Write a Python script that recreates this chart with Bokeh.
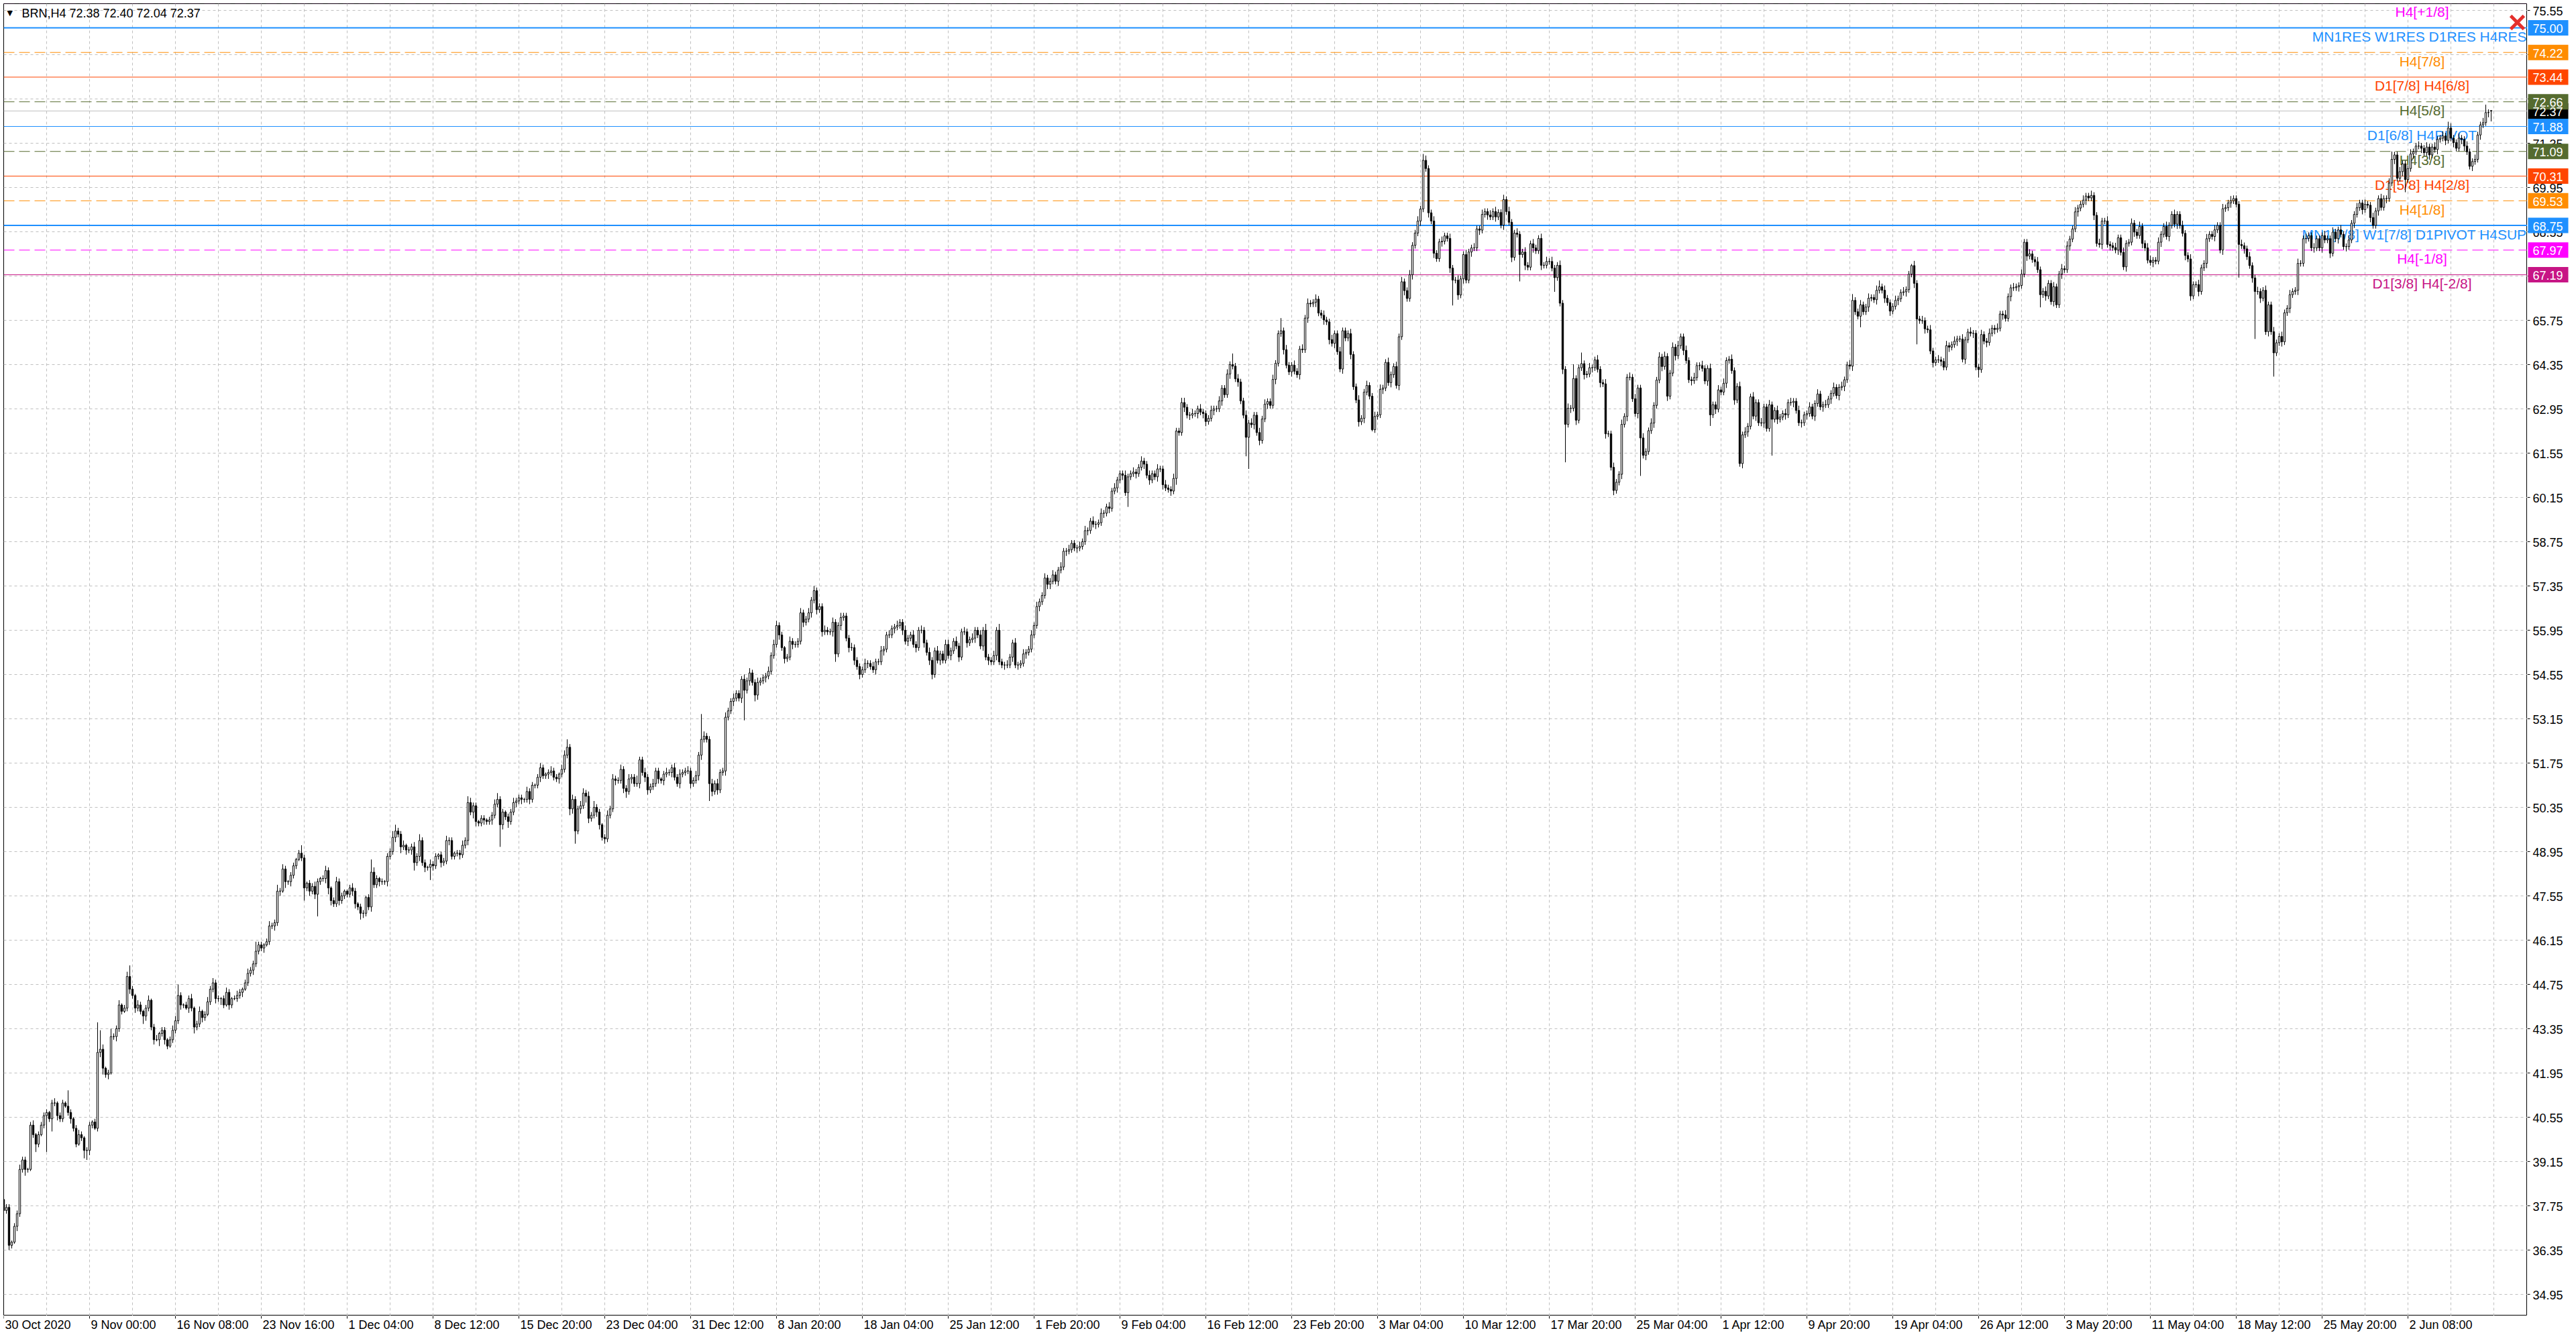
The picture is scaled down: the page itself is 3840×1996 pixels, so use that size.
import numpy as np
from bokeh.plotting import figure
from bokeh.layouts import column, row
from bokeh.models import ColumnDataSource, FixedTicker, Grid, Span, Range1d
from bokeh.core.properties import value
from bokeh.embed import file_html
from bokeh.resources import INLINE

symbol = "BRN,H4"
last_quote = [72.38, 72.40, 72.04, 72.37]   # open, high, low, close of the live bar
first_open = 37.95

# H4 closes, one row per date label (32 bars)
closes = [
    37.6, 37.7, 36.5, 36.6, 37.1, 37.5, 38.9, 39.2, 38.9, 38.9, 40.3, 40.0, 39.7, 40.0, 40.3, 40.6, 40.7, 40.5, 41.0, 41.0, 40.6, 40.5, 41.0, 40.9, 40.7, 40.5, 40.2, 39.7, 40.0, 39.9, 39.5, 39.5,
    40.3, 40.4, 40.2, 42.6, 42.7, 42.1, 41.9, 41.95, 43.1, 43.1, 43.35, 44.1, 43.9, 44.0, 45.0, 44.6, 44.4, 44.0, 44.1, 43.9, 43.75, 44.0, 44.25, 43.4, 43.0, 43.0, 43.2, 43.3, 43.0, 42.8, 43.0, 43.3,
    43.6, 44.4, 44.1, 44.1, 44.0, 44.3, 44.0, 43.4, 43.5, 43.9, 43.7, 43.8, 44.2, 44.6, 44.8, 44.3, 44.3, 44.3, 44.1, 44.5, 44.1, 44.3, 44.3, 44.4, 44.5, 44.6, 44.8, 45.1, 45.2, 45.4, 45.8, 46.0,
    45.9, 46.0, 46.1, 46.6, 46.6, 46.7, 47.7, 47.7, 48.4, 48.0, 48.0, 48.2, 48.5, 48.7, 48.9, 48.75, 47.8, 47.95, 47.7, 47.85, 47.6, 48.0, 48.1, 48.1, 48.35, 47.8, 47.4, 47.3, 48.0, 47.4, 47.55, 47.7,
    47.6, 47.8, 47.7, 47.3, 47.2, 47.0, 47.0, 47.5, 47.2, 48.3, 47.9, 48.1, 48.0, 48.0, 48.0, 48.8, 48.95, 49.4, 49.6, 49.5, 49.1, 49.15, 49.0, 49.0, 49.1, 48.6, 48.8, 49.3, 48.6, 48.45, 48.45, 48.55,
    48.5, 48.8, 48.85, 48.6, 48.65, 49.3, 49.3, 48.8, 48.9, 48.9, 48.85, 49.15, 49.3, 50.5, 50.2, 50.4, 49.9, 49.85, 50.0, 49.95, 49.9, 49.95, 50.1, 50.45, 50.6, 49.8, 50.2, 50.05, 49.9, 50.2, 50.5, 50.55,
    50.65, 50.6, 50.6, 50.85, 50.6, 51.05, 51.05, 51.3, 51.6, 51.35, 51.4, 51.45, 51.5, 51.3, 51.25, 51.4, 51.55, 52.0, 52.25, 50.3, 50.6, 49.6, 50.3, 50.4, 50.8, 50.7, 50.0, 50.1, 50.35, 50.2, 49.8, 49.4,
    49.35, 50.1, 50.3, 51.25, 51.2, 51.2, 51.55, 50.95, 50.85, 51.25, 51.3, 51.1, 51.1, 51.85, 51.45, 51.3, 50.9, 51.0, 51.1, 51.5, 51.25, 51.2, 51.4, 51.45, 51.45, 51.6, 51.3, 51.1, 51.4, 51.45, 51.5, 51.5,
    51.1, 51.2, 51.35, 52.0, 52.5, 52.6, 52.5, 51.1, 50.85, 51.1, 50.9, 51.45, 51.5, 53.2, 53.4, 53.7, 53.8, 53.95, 53.8, 54.4, 54.05, 54.35, 54.6, 54.3, 53.9, 54.3, 54.35, 54.45, 54.5, 54.65, 55.15, 55.5,
    56.1, 55.8, 55.4, 55.05, 55.1, 55.6, 55.5, 55.5, 55.6, 56.5, 56.2, 56.3, 56.5, 56.9, 57.2, 56.6, 56.7, 55.9, 55.95, 55.9, 55.9, 56.2, 55.2, 56.1, 56.35, 56.4, 55.7, 55.4, 55.4, 55.0, 54.8, 54.55,
    54.7, 54.9, 54.9, 54.8, 54.7, 54.95, 54.95, 55.3, 55.35, 55.8, 55.8, 56.0, 56.05, 56.1, 56.2, 55.95, 55.6, 55.7, 55.8, 55.5, 55.4, 55.95, 55.95, 55.55, 55.25, 55.0, 54.55, 55.3, 55.0, 55.2, 55.0, 55.5,
    55.15, 55.3, 55.6, 55.45, 55.1, 55.9, 55.9, 55.55, 55.65, 55.7, 55.95, 55.8, 55.45, 55.95, 55.1, 55.0, 54.95, 55.15, 55.95, 54.95, 54.85, 54.85, 54.85, 55.1, 55.55, 54.85, 54.85, 54.9, 55.2, 55.25, 55.35, 55.8,
    56.1, 56.7, 56.85, 57.05, 57.6, 57.4, 57.5, 57.7, 57.5, 57.85, 57.95, 58.45, 58.45, 58.5, 58.7, 58.55, 58.55, 58.6, 58.75, 59.1, 59.1, 59.4, 59.3, 59.3, 59.35, 59.65, 59.65, 59.85, 59.8, 60.35, 60.45, 60.7,
    60.9, 60.85, 60.3, 60.8, 60.9, 60.95, 60.9, 61.1, 61.3, 61.2, 60.85, 60.7, 60.9, 60.8, 61.05, 61.05, 60.55, 60.45, 60.4, 60.35, 60.75, 62.25, 62.2, 63.15, 63.0, 62.75, 62.75, 62.8, 62.8, 62.95, 62.85, 62.8,
    62.55, 62.65, 62.9, 62.95, 62.95, 63.2, 63.6, 63.4, 64.05, 64.35, 64.3, 63.9, 63.8, 63.2, 62.75, 62.05, 62.5, 62.45, 62.75, 62.2, 61.95, 62.63, 63.1, 63.18, 63.06, 63.88, 64.39, 65.33, 65.42, 64.82, 64.33, 64.12,
    64.33, 64.14, 64.03, 64.84, 64.82, 65.82, 66.29, 66.27, 66.32, 66.42, 65.98, 65.91, 65.76, 65.7, 65.14, 65.02, 65.33, 64.76, 64.21, 65.42, 65.19, 65.33, 64.67, 63.65, 63.23, 62.54, 62.65, 63.48, 63.69, 63.35, 62.29, 62.71,
    62.76, 63.57, 63.61, 64.42, 63.78, 64.03, 64.29, 63.69, 65.23, 66.97, 66.69, 66.44, 67.19, 68.12, 68.51, 68.89, 69.27, 70.81, 70.55, 69.15, 68.89, 67.87, 67.7, 68.23, 68.25, 68.42, 68.34, 67.4, 67.02, 67.02, 66.55, 67.06,
    67.83, 67.02, 67.91, 68.04, 68.04, 68.64, 68.6, 69.1, 69.19, 69.08, 69.02, 69.19, 69.02, 69.16, 68.76, 69.57, 69.19, 68.85, 67.74, 68.51, 68.47, 67.83, 67.91, 67.49, 67.43, 68.17, 68.04, 67.95, 68.34, 67.49, 67.49, 67.61,
    67.61, 67.4, 67.1, 67.49, 66.29, 64.2, 62.46, 62.97, 62.97, 63.91, 62.59, 64.25, 64.38, 64.03, 64.05, 64.25, 64.25, 64.5, 64.2, 63.78, 63.74, 62.16, 62.16, 61.1, 60.37, 60.63, 60.88, 62.46, 62.71, 63.95, 63.95, 63.27,
    62.8, 63.61, 62.03, 61.48, 61.6, 62.26, 62.5, 63.06, 63.86, 64.59, 64.29, 64.61, 63.35, 64.08, 64.9, 64.63, 64.95, 65.23, 64.8, 64.48, 63.87, 63.84, 63.94, 64.32, 64.32, 64.23, 63.83, 64.23, 62.76, 63.08, 62.94, 63.55,
    63.48, 63.76, 64.48, 64.52, 64.16, 63.23, 63.66, 61.22, 62.13, 62.22, 62.4, 63.33, 62.72, 63.15, 62.51, 62.5, 63.01, 62.33, 63.08, 62.62, 62.9, 62.62, 62.69, 62.8, 62.76, 63.15, 63.15, 63.19, 62.9, 62.51, 62.51, 62.76,
    62.8, 63.01, 62.72, 63.12, 63.42, 63.01, 63.08, 63.08, 63.26, 63.44, 63.63, 63.37, 63.63, 63.66, 63.87, 64.34, 64.3, 66.38, 66.02, 65.88, 66.24, 66.02, 66.17, 66.45, 66.47, 66.4, 66.7, 66.81, 66.7, 66.45, 66.31, 66.04,
    66.19, 66.38, 66.43, 66.63, 66.65, 66.72, 67.21, 67.48, 66.92, 65.79, 65.74, 65.74, 65.48, 65.45, 64.78, 64.41, 64.5, 64.5, 64.45, 64.27, 64.95, 64.9, 64.98, 65.09, 65.16, 65.16, 64.52, 65.13, 65.38, 65.34, 65.34, 64.27,
    64.19, 65.3, 65.09, 65.05, 65.34, 65.5, 65.46, 65.5, 65.95, 65.92, 65.81, 66.5, 66.78, 66.78, 66.81, 66.85, 67.21, 68.22, 67.78, 67.85, 67.67, 67.6, 67.35, 66.56, 66.67, 66.52, 66.92, 66.34, 66.81, 66.24, 67.21, 67.38,
    67.35, 68.1, 68.32, 68.64, 69.18, 69.3, 69.42, 69.55, 69.68, 69.62, 69.7, 69.07, 68.18, 68.15, 68.89, 68.89, 68.15, 68.11, 68.05, 67.97, 68.36, 67.9, 67.44, 68.18, 68.22, 68.82, 68.54, 68.43, 68.72, 68.18, 68.04, 67.65,
    67.58, 67.65, 67.62, 68.22, 68.47, 68.72, 68.4, 68.75, 69.1, 68.79, 69.1, 68.75, 68.5, 67.8, 67.69, 66.52, 66.88, 66.88, 66.66, 67.41, 67.55, 68.33, 68.47, 68.4, 68.61, 68.75, 67.97, 69.28, 69.31, 69.46, 69.53, 69.6,
    69.42, 68.15, 68.11, 68.01, 67.76, 67.48, 67.09, 66.66, 66.66, 66.45, 66.7, 65.39, 66.24, 65.39, 64.72, 65.04, 65.24, 65.07, 65.99, 66.13, 66.56, 66.66, 66.7, 67.55, 67.55, 68.33, 68.34, 68.43, 68.04, 68.04, 68.33, 68.04,
    68.43, 68.29, 68.33, 67.87, 68.54, 68.33, 68.61, 68.47, 68.08, 68.08, 68.29, 68.82, 69.1, 69.31, 69.46, 69.25, 69.42, 69.39, 69.0, 68.75, 69.21, 69.6, 69.32, 69.6, 69.6, 70.09, 70.84, 70.98, 70.24, 70.45, 70.7, 70.2,
    70.55, 71.01, 71.08, 71.26, 71.26, 71.19, 71.05, 71.23, 70.98, 71.23, 71.15, 71.47, 71.51, 71.58, 71.44, 71.83, 71.51, 71.37, 71.19, 71.51, 71.47, 71.26, 71.08, 70.62, 70.77, 70.84, 71.61, 71.93, 72.0, 72.32, 72.32, 72.37,
]

# wick beyond the candle body, in steps of 0.05
hi_wick = [
    3,2,2,1,2,2,3,2,2,1,2,3,1,2,2,2, 2,1,2,3,1,2,2,1,10,2,1,2,3,2,1,2,
    2,1,2,19,12,3,1,2,5,2,2,3,1,2,3,7, 2,1,3,2,1,2,3,1,2,3,1,2,2,1,2,3,
    3,7,2,1,2,2,3,1,2,3,1,2,3,2,3,2, 2,1,2,3,2,1,2,3,2,1,2,3,2,2,6,2,
    2,1,2,3,2,2,4,2,3,2,1,2,2,1,2,5, 2,1,2,2,3,2,1,2,3,2,1,2,3,2,2,1,
    1,2,3,2,1,2,2,1,2,8,3,2,1,2,1,2, 2,4,4,2,2,3,1,2,2,3,2,4,2,2,1,3,
    2,2,1,2,2,3,2,2,1,2,2,3,2,4,3,2, 2,1,2,2,1,2,2,3,4,2,2,1,2,2,3,2,
    2,2,1,3,2,2,1,2,3,2,1,2,3,2,2,1, 3,3,5,2,3,2,2,3,3,2,3,2,4,2,2,1,
    2,3,2,3,2,2,3,2,2,3,2,2,5,2,2,3, 2,2,3,2,2,1,2,3,2,2,3,2,3,2,2,3,
    2,2,3,2,16,3,2,2,3,2,3,2,2,3,2,2, 3,2,2,2,3,2,3,2,2,3,2,2,2,3,2,3,
    3,2,2,1,2,3,2,2,2,3,2,2,3,2,3,2, 2,2,3,2,2,3,2,2,3,2,2,2,3,2,2,2,
    2,3,2,2,3,2,2,3,2,2,3,2,2,3,2,2, 3,2,2,3,2,2,3,2,2,3,2,2,3,2,2,3,
    3,2,2,3,2,2,3,2,2,3,2,2,3,2,4,2, 2,3,2,4,2,2,3,2,2,3,2,2,3,2,2,3,
    2,3,2,2,3,2,2,3,2,2,3,2,2,3,2,2, 2,3,2,3,2,2,3,2,2,3,2,2,3,2,3,2,
    2,2,3,2,2,3,2,2,3,2,2,3,2,2,3,2, 2,3,2,2,3,2,2,3,3,2,2,3,2,2,3,2,
    2,2,3,2,2,3,2,2,3,2,7,2,3,2,2,3, 2,3,2,2,3,2,3,2,2,3,2,2,8,2,3,2,
    2,3,2,2,3,2,3,2,2,3,2,2,3,2,2,3, 2,2,3,2,2,2,3,2,2,3,2,2,3,2,2,3,
    2,3,2,2,3,2,2,3,2,3,2,2,3,2,2,3, 2,4,3,2,2,3,2,2,3,2,2,3,2,2,3,2,
    2,3,2,2,3,2,2,3,2,2,3,2,3,2,2,3, 2,3,2,2,3,2,2,3,2,2,3,2,2,3,2,3,
    2,3,2,2,3,2,2,3,2,9,2,2,7,2,2,3, 2,2,3,2,2,3,2,2,3,2,2,3,2,2,3,2,
    3,2,2,3,2,2,3,2,2,3,2,3,2,2,3,2, 3,2,2,3,2,2,3,2,2,3,2,2,3,2,2,3,
    2,3,2,2,3,2,2,3,2,3,2,2,3,2,2,3, 2,2,3,2,2,3,2,2,3,2,3,2,2,3,2,2,
    2,3,2,2,3,2,2,3,2,2,3,2,2,3,2,2, 3,4,2,2,3,2,2,3,2,2,3,4,2,3,2,2,
    2,3,2,2,3,2,2,1,3,2,2,3,2,2,3,2, 2,3,2,2,3,2,2,3,2,2,3,2,2,3,2,2,
    2,3,2,2,3,2,2,3,2,2,3,2,2,3,2,2, 3,2,2,3,2,2,3,2,2,3,2,2,3,2,2,3,
    2,3,2,2,3,2,2,3,2,2,3,2,2,3,2,2, 3,2,2,3,2,2,3,2,2,3,2,2,3,2,2,3,
    3,2,2,3,2,2,3,2,2,3,2,2,3,2,2,3, 2,2,3,2,2,3,2,2,3,2,2,3,2,2,3,2,
    2,2,3,2,2,3,2,2,3,2,2,3,2,2,3,2, 2,3,2,2,3,2,2,3,2,2,3,2,2,3,2,2,
    2,3,2,2,3,2,2,3,2,2,3,2,2,3,2,2, 3,2,2,3,2,2,3,2,2,3,5,2,2,3,2,2,
    2,3,2,2,3,2,2,3,2,2,3,2,2,3,2,4, 3,2,2,3,2,2,3,2,2,3,2,2,3,5,2,1,
]
lo_wick = [
    2,2,3,2,1,3,2,2,4,2,1,2,5,2,1,2, 23,2,8,2,3,2,2,1,2,3,2,2,1,2,5,6,
    3,2,1,2,3,4,2,3,1,2,3,2,2,1,2,3, 2,3,2,2,5,3,2,2,3,1,4,2,3,2,1,2,
    2,2,3,2,1,3,2,4,2,2,3,2,1,2,2,3, 2,4,2,1,3,2,1,2,2,3,1,2,2,3,2,2,
    2,3,1,2,2,3,2,3,1,4,2,3,2,2,1,2, 8,2,3,2,3,14,2,2,3,4,3,2,2,3,2,2,
    2,2,3,3,2,4,3,2,2,3,2,2,3,2,2,3, 2,2,3,2,4,2,3,2,3,5,2,3,2,3,2,8,
    3,2,2,3,2,2,3,2,2,2,3,2,2,3,2,4, 3,2,2,3,2,2,3,2,2,14,3,2,4,2,2,3,
    2,3,2,2,3,2,2,2,3,2,2,3,2,2,2,3, 2,2,2,4,3,8,2,3,2,4,3,2,2,3,3,2,
    3,2,2,2,3,2,2,3,4,2,3,2,2,3,2,3, 3,2,2,2,3,2,3,2,2,3,2,2,3,2,2,2,
    3,2,2,3,3,2,2,11,3,2,3,2,2,3,2,2, 3,2,2,3,19,2,3,2,4,3,2,2,3,2,2,2,
    2,3,2,3,2,2,3,2,2,2,3,2,2,3,2,3, 2,3,2,2,2,3,5,2,3,2,2,3,2,3,2,3,
    2,2,3,2,2,3,2,2,3,2,2,2,3,2,2,3, 2,3,2,2,3,2,2,3,2,3,3,2,2,3,2,2,
    2,3,2,2,3,2,2,3,2,2,3,2,2,3,2,3, 2,2,3,2,2,3,2,2,3,2,3,2,2,3,2,2,
    2,2,3,2,2,3,3,2,2,3,2,2,3,2,2,2, 3,2,2,2,3,2,2,3,2,2,3,2,3,2,2,3,
    2,3,2,9,2,2,3,2,2,3,2,3,2,2,3,2, 3,2,2,3,2,4,2,2,3,2,3,2,2,3,2,3,
    3,2,2,3,2,2,3,2,2,3,2,2,3,2,2,12, 20,2,3,2,3,2,2,3,2,2,3,2,2,3,2,2,
    3,2,2,3,2,2,3,2,2,3,2,2,3,2,3,2, 3,2,2,3,2,2,3,2,2,3,2,3,2,2,1,2,
    2,2,3,2,2,3,2,2,3,2,3,2,2,3,2,2, 3,2,2,3,2,3,2,2,3,2,2,3,16,2,3,2,
    3,2,2,3,2,2,3,2,2,3,2,2,3,2,2,3, 2,2,3,2,2,17,2,3,2,2,3,2,2,3,2,2,
    2,2,9,2,2,3,24,2,3,2,3,2,2,3,2,2, 3,2,2,3,2,3,2,2,3,2,2,3,2,3,2,2,
    2,3,24,2,3,2,2,3,2,2,3,2,3,2,2,3, 2,2,3,2,2,3,2,2,3,2,2,3,7,2,3,2,
    2,2,3,2,2,3,2,2,3,2,3,2,2,3,2,2, 3,2,2,23,2,3,2,2,3,2,2,3,2,2,3,2,
    3,2,2,3,2,2,3,2,2,3,2,2,3,2,3,2, 2,3,2,2,7,2,2,3,2,2,3,2,2,3,2,3,
    2,2,3,2,2,3,2,2,3,16,2,2,3,2,2,3, 2,2,3,2,2,3,2,2,3,2,2,3,2,2,3,2,
    5,2,2,3,2,2,3,2,2,3,2,2,3,2,2,3, 2,2,3,2,2,3,2,8,2,3,2,2,3,2,2,3,
    2,2,3,2,2,3,2,2,3,2,2,3,2,2,3,2, 2,3,2,2,3,2,2,3,2,2,3,2,2,3,2,2,
    2,3,2,2,3,2,2,3,2,2,3,2,2,3,2,3, 2,2,3,2,2,3,2,2,3,2,2,3,2,2,3,2,
    2,21,2,3,2,2,3,30,2,3,2,2,3,2,15,2, 2,3,2,2,3,2,2,3,2,2,3,2,2,3,2,2,
    3,2,2,3,2,2,3,2,2,3,2,2,3,2,2,3, 2,2,3,2,2,3,2,2,3,2,2,3,2,2,3,8,
    2,2,3,2,2,3,2,2,3,2,2,3,2,2,3,2, 2,3,2,2,3,3,2,2,3,2,2,3,2,2,3,6,
]

date_labels = ["30 Oct 2020", "9 Nov 00:00", "16 Nov 08:00", "23 Nov 16:00", "1 Dec 04:00",
               "8 Dec 12:00", "15 Dec 20:00", "23 Dec 04:00", "31 Dec 12:00", "8 Jan 20:00",
               "18 Jan 04:00", "25 Jan 12:00", "1 Feb 20:00", "9 Feb 04:00", "16 Feb 12:00",
               "23 Feb 20:00", "3 Mar 04:00", "10 Mar 12:00", "17 Mar 20:00", "25 Mar 04:00",
               "1 Apr 12:00", "9 Apr 20:00", "19 Apr 04:00", "26 Apr 12:00", "3 May 20:00",
               "11 May 04:00", "18 May 12:00", "25 May 20:00", "2 Jun 08:00"]
bars_per_label = 32

price_ticks = [75.55, 74.15, 72.75, 71.35, 69.95, 68.55, 67.15, 65.75, 64.35, 62.95,
               61.55, 60.15, 58.75, 57.35, 55.95, 54.55, 53.15, 51.75, 50.35, 48.95,
               47.55, 46.15, 44.75, 43.35, 41.95, 40.55, 39.15, 37.75, 36.35, 34.95]

# Murrey math levels
level_prices = [75.78, 75.00, 74.22, 73.44, 72.66, 71.88, 71.09, 70.31, 69.53, 68.75, 67.97, 67.19]
level_names = ["H4[+1/8]", "MN1RES W1RES D1RES H4RES", "H4[7/8]", "D1[7/8] H4[6/8]", "H4[5/8]",
               "D1[6/8] H4PIVOT", "H4[3/8]", "D1[5/8] H4[2/8]", "H4[1/8]",
               "MN1[7/8] W1[7/8] D1PIVOT H4SUP", "H4[-1/8]", "D1[3/8] H4[-2/8]"]

# styles
level_colors = ["#FF00FF", "#1E90FF", "#FF8C00", "#FF4500", "#556B2F", "#1E90FF",
                "#556B2F", "#FF4500", "#FF8C00", "#1E90FF", "#FF00FF", "#C71585"]
level_dash = ["16 7", "solid", "16 7", "solid", "16 7", "solid",
              "16 7", "solid", "16 7", "solid", "16 7", "solid"]
level_width = [1, 2, 1, 1, 1, 1, 1, 1, 1, 2, 1, 1]
level_anchor = ["center", "right", "center", "center", "center", "center",
                "center", "center", "center", "right", "center", "center"]
FONT = "Liberation Sans"

c = np.array(closes, dtype=float)
o = np.concatenate([[first_open], c[:-1]])
h = np.maximum(o, c) + np.array(hi_wick) * 0.05
l = np.minimum(o, c) - np.array(lo_wick) * 0.05
o[-1], h[-1], l[-1], c[-1] = last_quote
x = np.arange(len(c))
up = c >= o

PAD = 5                      # window edge before the chart frame
FRAME_W, FRAME_H = 3762, 1956
AXIS_W, AXIS_H = 72, 34
x_rng = Range1d(0, 940.5)
y_rng = Range1d(34.269, 75.762)

# ---- main chart
p = figure(width=PAD + FRAME_W, height=PAD + FRAME_H, x_range=x_rng, y_range=y_rng,
           x_axis_location=None, y_axis_location=None, output_backend="svg",
           toolbar_location=None, min_border=0, min_border_left=PAD, min_border_top=PAD,
           background_fill_color="white", border_fill_color="white")
p.outline_line_color = "black"
p.outline_line_width = 1
p.grid.visible = False
p.add_layout(Grid(dimension=0, ticker=FixedTicker(ticks=list(range(0, 941, bars_per_label // 2))),
                  grid_line_color="#c0c0c0", grid_line_dash="4 4", grid_line_width=1))
p.add_layout(Grid(dimension=1, ticker=FixedTicker(ticks=price_ticks),
                  grid_line_color="#c0c0c0", grid_line_dash="4 4", grid_line_width=1))

for pr, col, dash, w in zip(level_prices, level_colors, level_dash, level_width):
    p.add_layout(Span(location=pr, dimension="width", line_color=col, line_dash=dash,
                      line_width=w, level="underlay"))
p.add_layout(Span(location=last_quote[3], dimension="width", line_color="#c0c0c0",
                  line_width=1, level="underlay"))

for anchor, xpos, xoff in (("center", x_rng.end - 39.25, 0), ("right", x_rng.end, -1)):
    keep = [i for i, a in enumerate(level_anchor) if a == anchor]
    lab = ColumnDataSource(dict(x=[xpos] * len(keep), y=[level_prices[i] for i in keep],
                                text=[level_names[i] for i in keep],
                                color=[level_colors[i] for i in keep]))
    p.text(x="x", y="y", text="text", text_color="color", source=lab, text_align=anchor,
           text_baseline="middle", x_offset=xoff, y_offset=13, text_font=value(FONT),
           text_font_size="21px")

p.segment(x0=x, y0=h, x1=x, y1=l, line_color="black", line_width=1)
bull = ColumnDataSource(dict(x=x[up], top=c[up], bottom=o[up]))
bear = ColumnDataSource(dict(x=x[~up], top=o[~up], bottom=c[~up]))
p.vbar(x="x", width=0.6, top="top", bottom="bottom", source=bull,
       fill_color="white", line_color="black", line_width=1)
p.vbar(x="x", width=0.6, top="top", bottom="bottom", source=bear,
       fill_color="black", line_color="black", line_width=1)

title = f"{symbol}  " + " ".join(f"{v:.2f}" for v in last_quote)
p.text(x=[x_rng.start], y=[y_rng.end], text=["\u25bc"], x_offset=5, y_offset=14,
       text_baseline="middle", text_font=value("DejaVu Sans"), text_font_size="11px",
       text_color="black")
p.text(x=[x_rng.start], y=[y_rng.end], text=[title], x_offset=27, y_offset=14,
       text_baseline="middle", text_font=value(FONT), text_font_size="18px",
       text_color="black")
p.scatter(x=[x_rng.end - 3.75], y=[y_rng.end - 0.594], marker="x", size=28, line_width=5,
          line_color="#e5302c")

# ---- price scale on the right
ax = figure(width=AXIS_W, height=PAD + FRAME_H, x_range=Range1d(0, AXIS_W), y_range=y_rng,
            x_axis_location=None, y_axis_location=None, output_backend="svg",
            toolbar_location=None, min_border=0, min_border_top=PAD, outline_line_color=None,
            background_fill_color="white", border_fill_color="white")
ax.grid.visible = False
ax.segment(x0=[0] * len(price_ticks), y0=price_ticks, x1=[4] * len(price_ticks), y1=price_ticks,
           line_color="black", line_width=1)
ax.text(x=[8] * len(price_ticks), y=price_ticks, text=[f"{v:.2f}" for v in price_ticks],
        text_baseline="middle", y_offset=1, text_font=value(FONT), text_font_size="18px",
        text_color="black")

tag_price = [last_quote[3]] + [v for v in level_prices if v <= y_rng.end]
tag_color = ["black"] + [cl for v, cl in zip(level_prices, level_colors) if v <= y_rng.end]
tags = ColumnDataSource(dict(y=tag_price, color=tag_color, text=[f"{v:.2f}" for v in tag_price],
                             x=[31] * len(tag_price), tx=[8] * len(tag_price)))
ax.rect(x="x", y="y", width=60, height=23, height_units="screen", fill_color="color",
        line_color=None, source=tags)
ax.text(x="tx", y="y", text="text", text_baseline="middle", y_offset=1, text_color="white",
        text_font=value(FONT), text_font_size="18px", source=tags)

# ---- time scale at the bottom
tx = figure(width=PAD + FRAME_W, height=AXIS_H, x_range=x_rng, y_range=Range1d(0, AXIS_H),
            x_axis_location=None, y_axis_location=None, output_backend="svg",
            toolbar_location=None, min_border=0, min_border_left=PAD, outline_line_color=None,
            background_fill_color="white", border_fill_color="white")
tx.grid.visible = False
label_pos = [bars_per_label * k for k in range(len(date_labels))]
tx.segment(x0=label_pos, y0=[AXIS_H] * len(label_pos), x1=label_pos, y1=[AXIS_H - 4] * len(label_pos),
           line_color="black", line_width=1)
tx.text(x=label_pos, y=[AXIS_H] * len(label_pos), text=date_labels, x_offset=2, y_offset=3,
        text_baseline="top", text_font=value(FONT), text_font_size="18px", text_color="black")

layout = column(row(p, ax), tx)
open("out.html", "w").write(file_html(layout, INLINE))
